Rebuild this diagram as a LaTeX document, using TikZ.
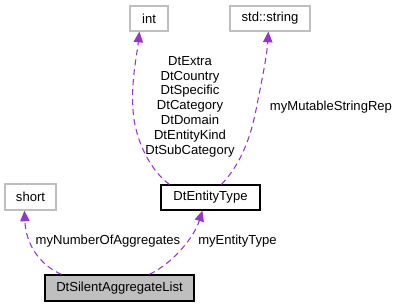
\documentclass[tikz,border=0pt]{standalone}
\usepackage{fontspec}
\setmainfont{Liberation Sans}
\usetikzlibrary{arrows.meta,calc}
\definecolor{edgepurple}{HTML}{9A32CD}
\definecolor{boxgray}{HTML}{BFBFBF}
\tikzset{
  classbox/.style={draw=boxgray, line width=0.9pt, inner sep=0pt, minimum height=18.75pt},
  mainbox/.style={draw=black, line width=0.9pt, inner sep=0pt, minimum height=18.75pt},
  edge/.style={draw=edgepurple, line width=0.8pt, dash pattern=on 4.5pt off 3pt,
    -{Triangle[length=8pt,width=7pt,fill=edgepurple]}},
  lbl/.style={inner sep=0pt, text=black}
}
\begin{document}
\begin{tikzpicture}[x=0.75pt,y=-0.75pt, font=\fontsize{9.8}{11.1}\selectfont]
\useasboundingbox (0,0) rectangle (400,307);
\node[classbox, minimum width=28.5pt] (int) at (149,18.5) {int};
\node[classbox, minimum width=60pt] (str) at (270,18.5) {std::string};
\node[classbox, minimum width=38.25pt, minimum height=19.5pt] (short) at (30.5,197) {short};
\node[mainbox, minimum width=74.25pt] (ent) at (210.5,197.5) {DtEntityType};
\node[mainbox, fill=boxgray, minimum width=111.75pt, minimum height=19.5pt] (dsal) at (119.5,288) {DtSilentAggregateList};

\draw[edge] ($(ent.north west)+(9,0)$) .. controls (150,170) and (135,140) .. (133,110)
  .. controls (131,80) and (137,55) .. ($(int.south west)+(10,0)$);
\draw[edge] ($(ent.north west)+(61,0)$) .. controls (240,165) and (250,140) .. (256,110)
  .. controls (262,80) and (267,55) .. ($(str.south west)+(39,0)$);
\draw[edge] ($(dsal.north west)+(17,0)$) .. controls (40,265) and (26,245) .. ($(short.south west)+(20,0)$);
\draw[edge] ($(dsal.north west)+(105,0)$) .. controls (175,262) and (195,235) .. ($(ent.south west)+(42,0)$);

\node[lbl, align=center] (l1) at (190,106.5) {DtExtra\\DtCountry\\DtSpecific\\DtCategory\\DtDomain\\DtEntityKind\\DtSubCategory};
\node[lbl] (l2) at (331,107) {myMutableStringRep};
\node[lbl] (l3) at (108,241) {myNumberOfAggregates};
\node[lbl] (l4) at (237.5,241) {myEntityType};
\end{tikzpicture}
\end{document}
